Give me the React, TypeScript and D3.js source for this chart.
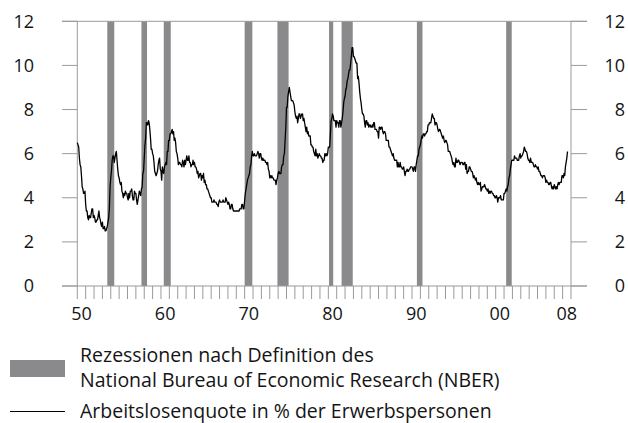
import React from "react";
import * as d3 from "d3";

const startYear = 1950;
// Monthly unemployment rate (%), Jan 1950 – Aug 2008
const unemploymentRate: number[] = [
  6.5, 6.4, 6.3, 5.8, 5.5, 5.4, 5.0, 4.5, 4.4, 4.2, 4.2, 4.3,
  3.7, 3.4, 3.4, 3.1, 3.0, 3.2, 3.1, 3.1, 3.3, 3.5, 3.5, 3.1,
  3.2, 3.1, 2.9, 2.9, 3.0, 3.0, 3.2, 3.4, 3.1, 3.0, 2.8, 2.7,
  2.9, 2.6, 2.6, 2.7, 2.5, 2.5, 2.6, 2.7, 2.9, 3.1, 3.5, 4.5,
  4.9, 5.2, 5.7, 5.9, 5.9, 5.6, 5.8, 6.0, 6.1, 5.7, 5.3, 5.0,
  4.9, 4.7, 4.6, 4.7, 4.3, 4.2, 4.0, 4.2, 4.1, 4.3, 4.2, 4.2,
  4.0, 3.9, 4.2, 4.0, 4.3, 4.3, 4.4, 4.1, 3.9, 3.9, 4.3, 4.2,
  4.2, 3.9, 3.7, 3.9, 4.1, 4.3, 4.2, 4.1, 4.4, 4.5, 5.1, 5.2,
  5.8, 6.4, 6.7, 7.4, 7.4, 7.3, 7.5, 7.4, 7.1, 6.7, 6.2, 6.2,
  6.0, 5.9, 5.6, 5.2, 5.1, 5.0, 5.1, 5.2, 5.5, 5.7, 5.8, 5.3,
  5.2, 4.8, 5.4, 5.2, 5.1, 5.4, 5.5, 5.6, 5.5, 6.1, 6.1, 6.6,
  6.6, 6.9, 6.9, 7.0, 7.1, 6.9, 7.0, 6.6, 6.7, 6.5, 6.1, 6.0,
  5.8, 5.5, 5.6, 5.6, 5.5, 5.5, 5.4, 5.7, 5.6, 5.4, 5.7, 5.5,
  5.7, 5.9, 5.7, 5.7, 5.9, 5.6, 5.6, 5.4, 5.5, 5.5, 5.7, 5.5,
  5.6, 5.4, 5.4, 5.3, 5.1, 5.2, 4.9, 5.0, 5.1, 5.1, 4.8, 5.0,
  4.9, 5.1, 4.7, 4.8, 4.6, 4.6, 4.4, 4.4, 4.3, 4.2, 4.1, 4.0,
  4.0, 3.8, 3.8, 3.8, 3.9, 3.8, 3.8, 3.8, 3.7, 3.7, 3.6, 3.8,
  3.9, 3.8, 3.8, 3.8, 3.8, 3.9, 3.8, 3.8, 3.8, 4.0, 3.9, 3.8,
  3.7, 3.8, 3.7, 3.5, 3.5, 3.7, 3.7, 3.5, 3.4, 3.4, 3.4, 3.4,
  3.4, 3.4, 3.4, 3.4, 3.4, 3.5, 3.5, 3.5, 3.7, 3.7, 3.5, 3.5,
  3.9, 4.2, 4.4, 4.6, 4.8, 4.9, 5.0, 5.1, 5.4, 5.5, 5.9, 6.1,
  5.9, 5.9, 6.0, 5.9, 5.9, 5.9, 6.0, 6.1, 6.0, 5.8, 6.0, 6.0,
  5.8, 5.7, 5.8, 5.7, 5.7, 5.7, 5.6, 5.6, 5.5, 5.6, 5.3, 5.2,
  4.9, 5.0, 4.9, 5.0, 4.9, 4.9, 4.8, 4.8, 4.8, 4.6, 4.8, 4.9,
  5.1, 5.2, 5.1, 5.1, 5.1, 5.4, 5.5, 5.5, 5.9, 6.0, 6.6, 7.2,
  8.1, 8.1, 8.6, 8.8, 9.0, 8.8, 8.6, 8.4, 8.4, 8.4, 8.3, 8.2,
  7.9, 7.7, 7.6, 7.7, 7.4, 7.6, 7.8, 7.8, 7.6, 7.7, 7.8, 7.8,
  7.5, 7.6, 7.4, 7.2, 7.0, 7.2, 6.9, 7.0, 6.8, 6.8, 6.8, 6.4,
  6.4, 6.3, 6.3, 6.1, 6.0, 5.9, 6.2, 5.9, 6.0, 5.8, 5.9, 6.0,
  5.9, 5.9, 5.8, 5.8, 5.6, 5.7, 5.7, 6.0, 5.9, 6.0, 5.9, 6.0,
  6.3, 6.3, 6.3, 6.9, 7.5, 7.6, 7.8, 7.7, 7.5, 7.5, 7.5, 7.2,
  7.5, 7.4, 7.4, 7.2, 7.5, 7.5, 7.2, 7.4, 7.6, 7.9, 8.3, 8.5,
  8.6, 8.9, 9.0, 9.3, 9.4, 9.6, 9.8, 9.8, 10.1, 10.4, 10.8, 10.8,
  10.4, 10.4, 10.3, 10.2, 10.1, 10.1, 9.4, 9.5, 9.2, 8.8, 8.5, 8.3,
  8.0, 7.8, 7.8, 7.7, 7.4, 7.2, 7.5, 7.5, 7.3, 7.4, 7.2, 7.3,
  7.3, 7.2, 7.2, 7.3, 7.2, 7.4, 7.4, 7.1, 7.1, 7.1, 7.0, 7.0,
  6.7, 7.2, 7.2, 7.1, 7.2, 7.2, 7.0, 6.9, 7.0, 7.0, 6.9, 6.6,
  6.6, 6.6, 6.6, 6.3, 6.3, 6.2, 6.1, 6.0, 5.9, 6.0, 5.8, 5.7,
  5.7, 5.7, 5.7, 5.4, 5.6, 5.4, 5.4, 5.6, 5.4, 5.4, 5.3, 5.3,
  5.4, 5.2, 5.0, 5.2, 5.2, 5.3, 5.2, 5.2, 5.3, 5.3, 5.4, 5.4,
  5.4, 5.3, 5.2, 5.4, 5.4, 5.2, 5.5, 5.7, 5.9, 5.9, 6.2, 6.3,
  6.4, 6.6, 6.8, 6.7, 6.9, 6.9, 6.8, 6.9, 6.9, 7.0, 7.0, 7.3,
  7.3, 7.4, 7.4, 7.4, 7.6, 7.8, 7.7, 7.6, 7.6, 7.3, 7.4, 7.4,
  7.3, 7.1, 7.0, 7.1, 7.1, 7.0, 6.9, 6.8, 6.7, 6.8, 6.6, 6.5,
  6.6, 6.6, 6.5, 6.4, 6.1, 6.1, 6.1, 6.0, 5.9, 5.8, 5.6, 5.5,
  5.6, 5.4, 5.4, 5.8, 5.6, 5.6, 5.7, 5.7, 5.6, 5.5, 5.6, 5.6,
  5.6, 5.5, 5.5, 5.6, 5.6, 5.3, 5.5, 5.1, 5.2, 5.2, 5.4, 5.4,
  5.3, 5.2, 5.2, 5.1, 4.9, 5.0, 4.9, 4.8, 4.9, 4.7, 4.6, 4.7,
  4.6, 4.6, 4.7, 4.3, 4.4, 4.5, 4.5, 4.5, 4.6, 4.5, 4.4, 4.4,
  4.3, 4.4, 4.2, 4.3, 4.2, 4.3, 4.3, 4.2, 4.2, 4.1, 4.1, 4.0,
  4.0, 4.1, 4.0, 3.8, 4.0, 4.0, 4.0, 4.1, 3.9, 3.9, 3.9, 3.9,
  4.2, 4.2, 4.3, 4.4, 4.3, 4.5, 4.6, 4.9, 5.0, 5.3, 5.5, 5.7,
  5.7, 5.7, 5.7, 5.9, 5.8, 5.8, 5.8, 5.7, 5.7, 5.7, 5.9, 6.0,
  5.8, 5.9, 5.9, 6.0, 6.1, 6.3, 6.2, 6.1, 6.1, 6.0, 5.8, 5.7,
  5.7, 5.6, 5.8, 5.6, 5.6, 5.6, 5.5, 5.4, 5.4, 5.5, 5.4, 5.4,
  5.3, 5.4, 5.2, 5.2, 5.1, 5.0, 5.0, 4.9, 5.0, 5.0, 5.0, 4.9,
  4.7, 4.8, 4.7, 4.7, 4.6, 4.6, 4.7, 4.7, 4.5, 4.4, 4.5, 4.4,
  4.6, 4.5, 4.4, 4.5, 4.4, 4.6, 4.7, 4.6, 4.7, 4.7, 4.7, 5.0,
  5.0, 4.9, 5.1, 5.0, 5.4, 5.6, 5.8, 6.1,
];

// NBER recessions: peak month -> trough month
const recessionPeaks: [number, number][] = [
  [1953, 7], [1957, 8], [1960, 4], [1969, 12], [1973, 11], [1980, 1], [1981, 7], [1990, 7], [2001, 3],
];
const recessionTroughs: [number, number][] = [
  [1954, 5], [1958, 4], [1961, 2], [1970, 11], [1975, 3], [1980, 7], [1982, 11], [1991, 3], [2001, 11],
];

const yTicks = [0, 2, 4, 6, 8, 10, 12];
const xLabelYears = [1950, 1960, 1970, 1980, 1990, 2000, 2008];
const xLabels = ["50", "60", "70", "80", "90", "00", "08"];
const legendLabels = [
  "Rezessionen nach Definition des",
  "National Bureau of Economic Research (NBER)",
  "Arbeitslosenquote in % der Erwerbspersonen",
];

const FONT = "'Open Sans', 'Noto Sans', sans-serif";
const AXIS = "#9a9a9a";
const BAND = "#8a8a8c";
const TEXT = "#151515";

export default function App() {
  const W = 628, H = 423;
  const x = d3.scaleLinear().domain([1950, 2009]).range([77.3, 571]);
  const y = d3.scaleLinear().domain([0, 12]).range([286, 21.3]);

  const pts = unemploymentRate.map((v, i) => [startYear + i / 12, v] as [number, number]);
  const line = d3.line<[number, number]>().x((d) => x(d[0])).y((d) => y(d[1]));

  const years = d3.range(1950, 2010);

  return (
    <svg width={W} height={H} style={{ position: "absolute", left: 0, top: 0, background: "#fff" }}>
      {recessionPeaks.map((p, i) => {
        const t = recessionTroughs[i];
        const x0 = x(p[0] + p[1] / 12);
        const x1 = x(t[0] + t[1] / 12);
        return <rect key={i} x={x0} y={y(12)} width={x1 - x0} height={y(0) - y(12)} fill={BAND} />;
      })}
      <line x1={62} x2={587} y1={y(12)} y2={y(12)} stroke={AXIS} strokeWidth={1} />
      <line x1={62} x2={587} y1={y(0)} y2={y(0)} stroke={AXIS} strokeWidth={1} />
      <line x1={x(1950)} x2={x(1950)} y1={y(12)} y2={y(0)} stroke={AXIS} strokeWidth={1} />
      <line x1={x(2009)} x2={x(2009)} y1={y(12)} y2={y(0)} stroke={AXIS} strokeWidth={1} />
      {yTicks.map((t) => (
        <g key={t}>
          <line x1={62} x2={x(1950)} y1={y(t)} y2={y(t)} stroke={AXIS} strokeWidth={1} />
          <line x1={x(2009)} x2={587} y1={y(t)} y2={y(t)} stroke={AXIS} strokeWidth={1} />
          <text x={34} y={y(t)} dy="0.36em" textAnchor="end" fontFamily={FONT} fontSize={18} fill={TEXT}>
            {t}
          </text>
          <text x={625} y={y(t)} dy="0.36em" textAnchor="end" fontFamily={FONT} fontSize={18} fill={TEXT}>
            {t}
          </text>
        </g>
      ))}
      {years.map((yr) => (
        <line key={yr} x1={x(yr)} x2={x(yr)} y1={y(0)} y2={299} stroke={AXIS} strokeWidth={1} />
      ))}
      {xLabelYears.map((yr, i) => (
        <text key={yr} x={x(yr + 0.5)} y={320} textAnchor="middle" fontFamily={FONT} fontSize={18} fill={TEXT}>
          {xLabels[i]}
        </text>
      ))}
      <path d={line(pts) || ""} fill="none" stroke="#000" strokeWidth={1.3} strokeLinejoin="round" />
      <rect x={10} y={360} width={55} height={17} fill={BAND} />
      <text x={80} y={362} fontFamily={FONT} fontSize={19.5} fill={TEXT}>{legendLabels[0]}</text>
      <text x={80} y={387} fontFamily={FONT} fontSize={19.5} fill={TEXT}>{legendLabels[1]}</text>
      <line x1={10} x2={65} y1={411.5} y2={411.5} stroke="#000" strokeWidth={1.2} />
      <text x={80} y={418} fontFamily={FONT} fontSize={19.5} fill={TEXT}>{legendLabels[2]}</text>
    </svg>
  );
}
